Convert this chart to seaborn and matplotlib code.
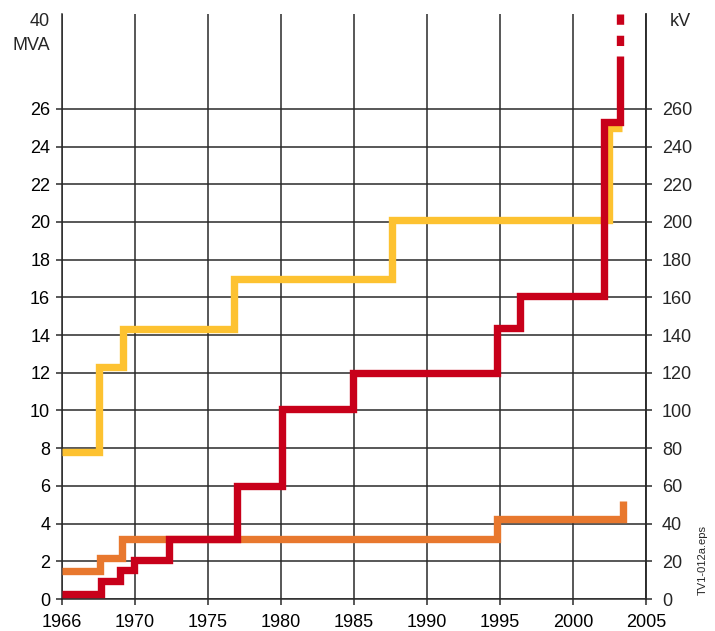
import numpy as np
import pandas as pd
import matplotlib
matplotlib.use("Agg")
import matplotlib.pyplot as plt
import seaborn as sns

sns.set_style("white")
plt.rcParams['font.family'] = ['Liberation Sans', 'DejaVu Sans']
plt.rcParams['lines.scale_dashes'] = False

# step data (x = chart position in years, y = MVA scale; right axis is kV = 10 x MVA)
yellow_years = [1965, 1967.5, 1969.2, 1976.8, 1987.6, 2002.45, 2003.35]
yellow_vals = [7.8, 12.3, 14.3, 16.95, 20.1, 25.0, 25.0]

orange_years = [1965, 1967.6, 1969.1, 1994.8, 2003.4]
orange_vals = [1.5, 2.2, 3.2, 4.25, 5.2]

red_years = [1965, 1967.7, 1969.0, 1969.9, 1972.3, 1977.0, 1980.1, 1984.9, 1994.8, 1996.4, 2002.1, 2003.2]
red_vals = [0.25, 0.95, 1.55, 2.05, 3.2, 6.0, 10.1, 12.0, 14.4, 16.07, 25.3, 28.8]
red_dash_years = [2003.2, 2003.2]
red_dash_vals = [31.03, 28.8]

x_ticks = [1965, 1970, 1975, 1980, 1985, 1990, 1995, 2000, 2005]
x_labels = ["1966", "1970", "1975", "1980", "1985", "1990", "1995", "2000", "2005"]
mva_ticks = list(range(0, 27, 2))
kv_ticks = list(range(0, 261, 20))

YELLOW = "#FDC231"
ORANGE = "#E8782E"
RED = "#C8001A"
GRID = "#2a2a2a"

fig = plt.figure(figsize=(7.15, 6.31), dpi=100)
ax = fig.add_axes([62 / 715, 32 / 631, 584 / 715, 585 / 631])

lw = 5.3
style = dict(solid_joinstyle='miter', solid_capstyle='butt', estimator=None, sort=False,
             drawstyle='steps-post', linewidth=lw, legend=False)
sns.lineplot(x=orange_years, y=orange_vals, color=ORANGE, ax=ax, zorder=3, **style)
sns.lineplot(x=yellow_years, y=yellow_vals, color=YELLOW, ax=ax, zorder=4, **style)
sns.lineplot(x=red_years, y=red_vals, color=RED, ax=ax, zorder=5, **style)
ax.plot(red_dash_years, red_dash_vals, color=RED, linewidth=lw, zorder=5,
        linestyle=(0, (7.4, 7.9)), dash_capstyle='butt')

ax.set_xlim(1965, 2005)
ax.set_ylim(0, 31.03)
ax.set_xticks(x_ticks)
ax.set_xticklabels(x_labels)
ax.set_yticks(mva_ticks)
ax.set_xlabel("")
ax.set_ylabel("")
ax.grid(True, color=GRID, linewidth=1.1, zorder=1)
ax.set_axisbelow(True)
ax.tick_params(axis='both', direction='out', length=4.5, width=1.1, color=GRID,
               labelsize=13, labelcolor='black')
ax.tick_params(axis='x', pad=6)
ax.tick_params(axis='y', pad=4)
ax.tick_params(left=True, bottom=True)
for side in ['left', 'right', 'bottom']:
    ax.spines[side].set_color(GRID)
    ax.spines[side].set_linewidth(1.1)
ax.spines['top'].set_visible(False)

ax2 = ax.twinx()
ax2.set_ylim(0, 310.3)
ax2.set_yticks(kv_ticks)
ax2.tick_params(axis='y', direction='out', length=4.5, width=1.1, color=GRID,
                labelsize=13, pad=7, right=True)
for side in ['left', 'top', 'bottom']:
    ax2.spines[side].set_visible(False)
ax2.spines['right'].set_color(GRID)
ax2.spines['right'].set_linewidth(1.1)

fig.text(50 / 715, 1 - 21 / 631, "40", ha='right', va='center', fontsize=13)
fig.text(50 / 715, 1 - 46 / 631, "MVA", ha='right', va='center', fontsize=13)
fig.text(670 / 715, 1 - 22 / 631, "kV", ha='left', va='center', fontsize=13)
fig.text(703 / 715, 1 - 560 / 631, "TV1-012a.eps", ha='center', va='center',
         rotation=90, fontsize=8)

fig.savefig("out.png", dpi=100)
